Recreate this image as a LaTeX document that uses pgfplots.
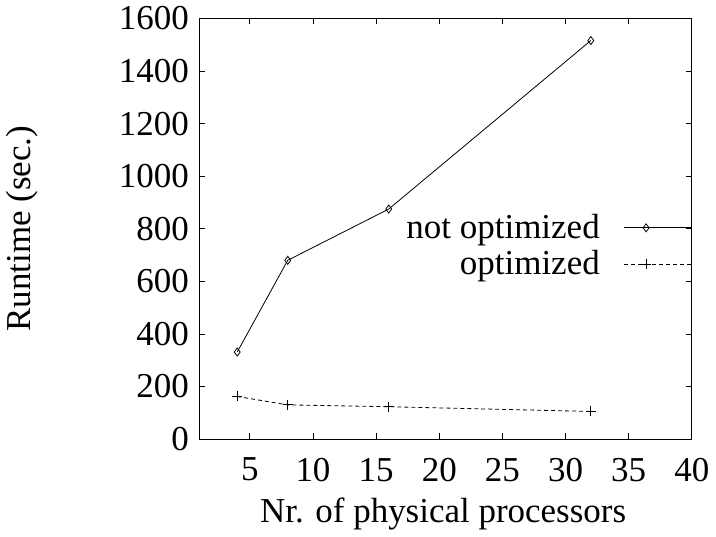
\documentclass[border=0pt]{standalone}
\usepackage{fontspec}
\setmainfont{Liberation Serif}
\usepackage{pgfplots}
\pgfplotsset{compat=1.18}

\begin{document}
\begin{tikzpicture}
\begin{axis}[
    scale only axis,
    width=246.5pt,
    height=210.5pt,
    xmin=1, xmax=40,
    ymin=0, ymax=1600,
    xtick={5,10,...,40},
    ytick={0,200,...,1600},
    tick align=inside,
    major tick length=3pt,
    tick style={black, line width=0.4pt},
    axis line style={line width=0.5pt},
    font=\fontsize{17.5}{20}\selectfont,
    /pgf/number format/assume math mode=true,
    /pgf/number format/1000 sep={},
    xticklabel style={yshift=-6pt},
    yticklabel style={xshift=-1.7pt},
    xlabel={Nr. of physical processors},
    ylabel={Runtime (sec.)},
    xlabel style={at={(axis description cs:0.495,-0.178)}, anchor=center},
    ylabel style={at={(axis description cs:-0.359,0.5)}, anchor=center},
    legend style={draw=none, fill=none, at={(1,0.545)}, anchor=north east,
        font=\fontsize{17.5}{20}\selectfont, row sep=0.5pt, column sep=10pt,
        inner sep=0pt},
    legend cell align=right,
    legend plot pos=right,
    legend image code/.code={
        \draw[mark indices={2}, #1] plot coordinates {(0pt,0pt) (11pt,0pt) (33.5pt,0pt)};
    },
]
\addplot[black, line width=0.4pt, mark=diamond, mark size=2pt, mark options={solid}] coordinates {
    (4,331) (8,680) (16,875) (32,1516)
};
\addplot[black, line width=0.4pt, dash pattern=on 2pt off 1.5pt, mark=+, mark size=2.5pt, mark options={solid}] coordinates {
    (4,162) (8,130) (16,123) (32,105)
};
\legend{not optimized, optimized}
\end{axis}
\end{tikzpicture}
\end{document}
